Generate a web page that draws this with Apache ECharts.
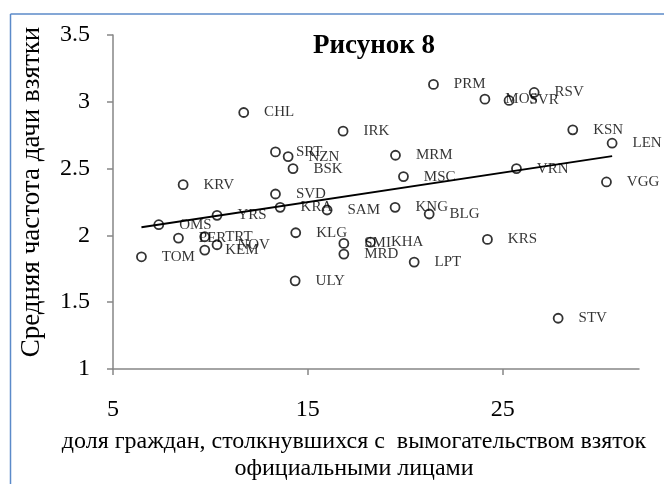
<!DOCTYPE html>
<html>
<head>
<meta charset="utf-8">
<script src="https://cdn.jsdelivr.net/npm/echarts@6/dist/echarts.min.js"></script>
<style>
  html, body { margin: 0; padding: 0; background: #fff; }
  #chart { width: 664px; height: 484px; }
</style>
</head>
<body>
<div id="chart"></div>
<script>
// Region codes
const regions = ['TOM','OMS','KRV','PER','TRT','KEM','NOV','YRS','CHL','SRT','NZN','BSK',
  'SVD','KRA','SAM','KLG','ULY','IRK','SMI','MRD','KHA','MRM','MSC','KNG','BLG','LPT',
  'PRM','MOS','SVR','RSV','KRS','VRN','KSN','LEN','VGG','STV'];
// Share of citizens who faced bribe extortion by officials (%)
const extortionShare = [6.46,7.35,8.60,8.36,9.71,9.71,10.34,10.34,11.71,13.34,13.99,14.24,
  13.34,13.58,15.99,14.38,14.35,16.81,16.85,16.85,18.22,19.50,19.91,19.48,21.23,20.46,
  21.45,24.09,25.33,26.62,24.22,25.71,28.60,30.62,30.33,27.85];
// Average frequency of giving a bribe
const bribeFrequency = [1.84,2.08,2.38,1.98,1.99,1.89,1.93,2.15,2.92,2.625,2.59,2.50,
  2.31,2.21,2.19,2.02,1.66,2.78,1.94,1.86,1.95,2.60,2.44,2.21,2.16,1.80,
  3.13,3.02,3.01,3.07,1.97,2.50,2.79,2.69,2.40,1.38];
const xTicks = [5, 15, 25];
const yTicks = [1, 1.5, 2, 2.5, 3, 3.5];

const chartTitle = 'Рисунок 8';
const yTitle = 'Средняя частота дачи взятки';
const xTitle = 'доля граждан, столкнувшихся с  вымогательством взяток\nофициальными лицами';

const serif = "'Liberation Serif', 'Times New Roman', serif";

const points = regions.map((r, i) => [extortionShare[i], bribeFrequency[i], r]);

// Ordinary least squares linear trend over the data range
const n = points.length;
let sx = 0, sy = 0, sxx = 0, sxy = 0;
points.forEach(p => { sx += p[0]; sy += p[1]; sxx += p[0] * p[0]; sxy += p[0] * p[1]; });
const slope = (n * sxy - sx * sy) / (n * sxx - sx * sx);
const intercept = (sy - slope * sx) / n;
const xMin = Math.min(...extortionShare), xMax = Math.max(...extortionShare);
const trend = [[xMin, intercept + slope * xMin], [xMax, intercept + slope * xMax]];

const chart = echarts.init(document.getElementById('chart'), null, { renderer: 'canvas' });
chart.setOption({
  animation: false,
  backgroundColor: '#fff',
  grid: { left: 113, right: 25, top: 35, bottom: 115, outerBoundsMode: 'none' },
  xAxis: {
    type: 'value', min: 5, max: 32, interval: 10,
    axisLine: { lineStyle: { color: '#868686', width: 1.5 } },
    axisTick: { show: true, length: 6, customValues: xTicks, lineStyle: { color: '#868686', width: 1.5 } },
    axisLabel: { customValues: xTicks, fontFamily: serif, fontSize: 24, color: '#000', margin: 29 },
    splitLine: { show: false }
  },
  yAxis: {
    type: 'value', min: 1, max: 3.5, interval: 0.5,
    axisLine: { show: true, lineStyle: { color: '#868686', width: 1.5 } },
    axisTick: { show: true, length: 6, customValues: yTicks, lineStyle: { color: '#868686', width: 1.5 } },
    axisLabel: { customValues: yTicks, fontFamily: serif, fontSize: 24, color: '#000', margin: 23 },
    splitLine: { show: false }
  },
  series: [
    {
      type: 'scatter',
      data: points,
      symbol: 'circle',
      symbolSize: 9,
      itemStyle: { color: '#fff', borderColor: '#000', borderWidth: 1.8 },
      label: {
        show: true, position: 'right', distance: 15,
        formatter: p => p.data[2],
        fontFamily: serif, fontSize: 15, color: '#000'
      },
      z: 2
    },
    {
      type: 'line',
      data: trend,
      symbol: 'none',
      lineStyle: { color: '#000', width: 1.8 },
      z: 3,
      silent: true
    }
  ],
  graphic: [
    { type: 'line', shape: { x1: 10.5, y1: 14, x2: 10.5, y2: 484 }, style: { stroke: '#5B8AC9', lineWidth: 1.5 } },
    { type: 'line', shape: { x1: 10.5, y1: 14, x2: 664, y2: 14 }, style: { stroke: '#5B8AC9', lineWidth: 1.5 } },
    { type: 'text', x: 374, y: 46, style: { text: chartTitle, font: "bold 27px 'Liberation Serif', serif", fill: '#000', align: 'center', verticalAlign: 'middle' } },
    { type: 'text', x: 32, y: 192, rotation: Math.PI / 2, style: { text: yTitle, font: "27px 'Liberation Serif', serif", fill: '#000', align: 'center', verticalAlign: 'middle' } },
    { type: 'text', x: 354, y: 455, style: { text: xTitle, font: "24px 'Liberation Serif', serif", lineHeight: 27, fill: '#000', align: 'center', verticalAlign: 'middle' } }
  ]
});
</script>
</body>
</html>
